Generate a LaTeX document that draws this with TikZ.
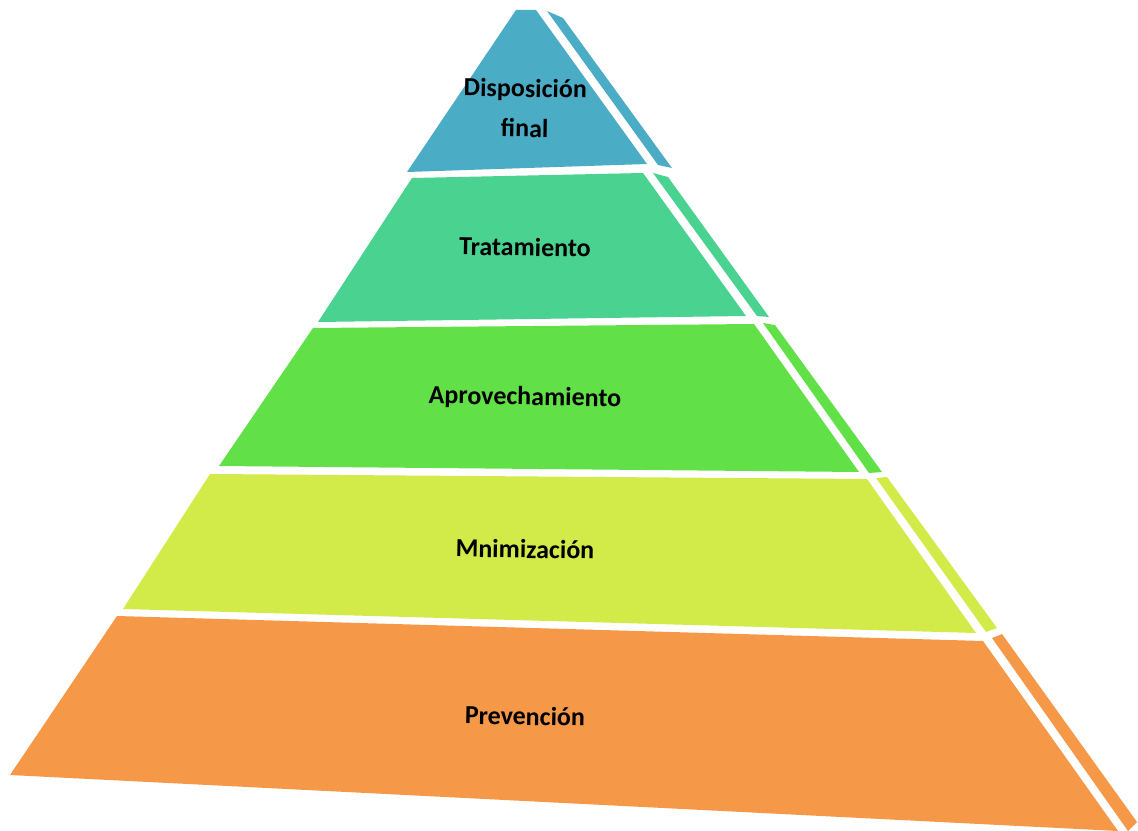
\documentclass[tikz,border=0pt]{standalone}
\usepackage{fontspec}
\setmainfont{Carlito}
\usepackage{tikz}
\usetikzlibrary{positioning,calc}
\usepackage{xcolor}

\definecolor{blueLayer}{HTML}{4BACC6}
\definecolor{tealLayer}{HTML}{4AD291}
\definecolor{greenLayer}{HTML}{62E048}
\definecolor{limeLayer}{HTML}{D2EB48}
\definecolor{orangeLayer}{HTML}{F59848}

\tikzset{
    label text/.style={font=\fontsize{19.5}{30}\selectfont\bfseries, align=center, rotate=-1},
}

\begin{document}
\begin{tikzpicture}[x=0.75pt, y=-0.75pt]
    \useasboundingbox (0,0) rectangle (1138,831);

    % Layer 5 (top)
    \fill[blueLayer] (516,10) -- (536,10) -- (647,164) -- (407,172) -- cycle;
    \fill[blueLayer] (547,11) -- (563,18) -- (672,168) -- (658,165) -- cycle;
    \node[label text] (disp) at (525,108) {Disposición\\final};

    % Layer 4
    \fill[tealLayer] (412,178) -- (643,173) -- (746,316) -- (318,322) -- cycle;
    \fill[tealLayer] (653,173) -- (668,177) -- (769,317) -- (757,316) -- cycle;
    \node[label text] (trat) at (525,247) {Tratamiento};

    % Layer 3
    \fill[greenLayer] (313,328) -- (754,324) -- (859,472) -- (219,466) -- cycle;
    \fill[greenLayer] (763,323) -- (775,325) -- (882,472) -- (869,473) -- cycle;
    \node[label text] (aprov) at (525,398) {Aprovechamiento};

    % Layer 2
    \fill[limeLayer] (210,474) -- (867,479) -- (976,633) -- (123,609) -- cycle;
    \fill[limeLayer] (876,478) -- (887,477) -- (997,628) -- (986,632) -- cycle;
    \node[label text] (mini) at (525,549) {Mnimización};

    % Layer 1 (base)
    \fill[orangeLayer] (117,616) -- (983,641) -- (1118,831) -- (10,775) -- cycle;
    \fill[orangeLayer] (992,638) -- (1002,634) -- (1137,822) -- (1128,831) -- cycle;
    \node[label text] (prev) at (525,716) {Prevención};

\end{tikzpicture}
\end{document}
